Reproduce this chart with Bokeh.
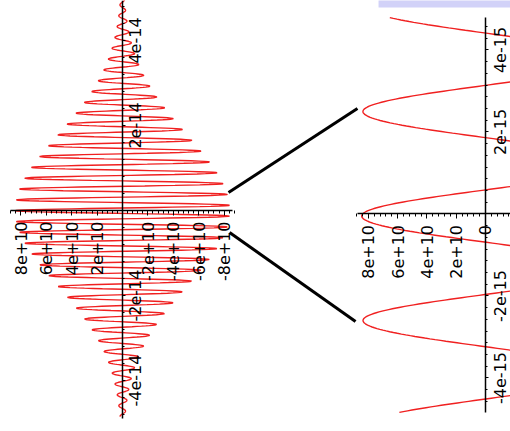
import math
import numpy as np
from bokeh.plotting import figure
from bokeh.models import Range1d, LinearAxis, FixedTicker
from bokeh.embed import file_html
from bokeh.resources import INLINE

# ---- values ----
peak_field = 8.45e10          # V/m, peak of the pulse envelope
carrier_period = 2.55e-15     # s, spacing of successive maxima in the zoomed panel
peak_time = -0.05e-15         # s, position of the central maximum
envelope_width = 2.5e-14      # s, 1/e half-width of the Gaussian envelope (left panel)
left_t_span = [-4.85e-14, 5.0e-14]
right_t_span = [-4.84e-15, 4.79e-15]
left_samples = 1500
right_samples = 500

left_field_ticks = [-8e10, -6e10, -4e10, -2e10, 2e10, 4e10, 6e10, 8e10]
left_field_labels = ["-8e+10", "-6e+10", "-4e+10", "-2e+10", "2e+10", "4e+10", "6e+10", "8e+10"]
left_time_ticks = [-4e-14, -2e-14, 2e-14, 4e-14]
left_time_labels = ["-4e-14", "-2e-14", "2e-14", "4e-14"]
right_field_ticks = [-2e10, 0.0, 2e10, 4e10, 6e10, 8e10]
right_field_labels = ["-2e+10", "0", "2e+10", "4e+10", "6e+10", "8e+10"]
right_time_ticks = [-4e-15, -2e-15, 2e-15, 4e-15]
right_time_labels = ["-4e-15", "-2e-15", "2e-15", "4e-15"]

# connector lines (left-panel coordinates: field, time)
conn_x0 = [-8.35e10, -8.43e10]
conn_y0 = [0.424e-14, -0.518e-14]
conn_x1 = [-18.5e10, -18.35e10]
conn_y1 = [2.40e-14, -2.61e-14]


def pulse(t):
    return (peak_field * np.exp(-(t / envelope_width) ** 2)
            * np.cos(2 * np.pi * (t - peak_time) / carrier_period))


tl = np.linspace(left_t_span[0], left_t_span[1], left_samples)
tr = np.linspace(right_t_span[0], right_t_span[1], right_samples)

p = figure(width=510, height=431, output_backend="svg", toolbar_location=None,
           x_range=Range1d(9.606e10, -30.55e10), y_range=Range1d(-5.2e-14, 4.941e-14),
           x_axis_type=None, y_axis_type=None, min_border=0)
p.outline_line_color = None
p.background_fill_color = "white"
p.extra_x_ranges = {"rx": Range1d(33.1e10, -1.706e10)}
p.extra_y_ranges = {"ry": Range1d(-5.305e-15, 5.207e-15)}

# lavender bar at top
p.quad(left=[-20.16e10], right=[-31e10], bottom=[4.776e-14], top=[5.2e-14],
       fill_color="#d2d2f8", line_color=None)

red = "#f02020"
p.line(pulse(tl), tl, line_color=red, line_width=1.4)
p.line(pulse(tr), tr, line_color=red, line_width=1.4, x_range_name="rx", y_range_name="ry")

p.segment(x0=conn_x0, y0=conn_y0, x1=conn_x1, y1=conn_y1, line_color="black", line_width=3)

FONT = "DejaVu Sans"
FS = "16px"


def style(ax):
    ax.axis_line_color = "black"
    ax.axis_line_width = 1.5
    ax.major_tick_line_color = "black"
    ax.minor_tick_line_color = "black"
    ax.major_label_text_font = FONT
    ax.major_label_text_font_size = FS
    ax.major_label_text_color = "black"


def field_axis(ax):
    style(ax)
    ax.major_tick_in = 0
    ax.major_tick_out = 5
    ax.minor_tick_in = 0
    ax.minor_tick_out = 3
    ax.major_label_orientation = math.pi / 2
    ax.major_label_standoff = 6


def time_axis(ax, standoff):
    style(ax)
    ax.major_tick_out = 0
    ax.major_tick_in = 3
    ax.minor_tick_out = 0
    ax.minor_tick_in = 2
    ax.major_label_orientation = "parallel"
    ax.major_label_standoff = standoff


# left panel field axis
ax1 = LinearAxis(fixed_location=0,
                 ticker=FixedTicker(ticks=left_field_ticks,
                                    minor_ticks=list(np.arange(-8.8e10, 8.81e10, 0.4e10))),
                 bounds=(-8.66e10, 8.8e10),
                 major_label_overrides=dict(zip(left_field_ticks, left_field_labels)))
field_axis(ax1)
p.add_layout(ax1, "below")

# left panel time axis (labels pushed to the right of the line)
ax2 = LinearAxis(fixed_location=0,
                 ticker=FixedTicker(ticks=left_time_ticks,
                                    minor_ticks=list(np.arange(-4.8e-14, 4.81e-14, 0.4e-14))),
                 bounds=(-4.9e-14, 5.0e-14),
                 major_label_overrides=dict(zip(left_time_ticks, left_time_labels)))
time_axis(ax2, -19)
p.add_layout(ax2, "left")

# right panel field axis
ax3 = LinearAxis(fixed_location=0, x_range_name="rx", y_range_name="ry",
                 ticker=FixedTicker(ticks=right_field_ticks,
                                    minor_ticks=list(np.arange(-2.8e10, 8.81e10, 0.4e10))),
                 bounds=(-3e10, 8.75e10),
                 major_label_overrides=dict(zip(right_field_ticks, right_field_labels)))
field_axis(ax3)
p.add_layout(ax3, "below")

# right panel time axis
ax4 = LinearAxis(fixed_location=0, x_range_name="rx", y_range_name="ry",
                 ticker=FixedTicker(ticks=right_time_ticks,
                                    minor_ticks=list(np.arange(-4.57e-15, 4.6e-15, 2e-15 / 7))),
                 bounds=(-4.84e-15, 4.79e-15),
                 major_label_overrides=dict(zip(right_time_ticks, right_time_labels)))
time_axis(ax4, -21)
p.add_layout(ax4, "left")

open("out.html", "w").write(file_html(p, INLINE))
